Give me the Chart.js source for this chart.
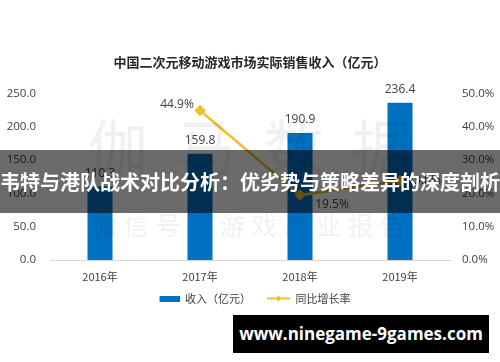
<!DOCTYPE html>
<html lang="zh-CN">
<head>
  <meta charset="UTF-8" />
  <title>中国二次元移动游戏市场实际销售收入</title>
  <script src="https://cdn.jsdelivr.net/npm/chart.js"></script>
  <style>
    body {
      margin: 0;
      background: #fff;
      font-family: 'Noto Sans CJK SC', sans-serif;
    }
    #wrap {
      position: relative;
      width: 500px;
      height: 362px;
      overflow: hidden;
    }
    .wm {
      position: absolute;
      color: rgba(0, 0, 0, 0.06);
      white-space: nowrap;
      pointer-events: none;
    }
    #wm1 { left: 88px; top: 104px; font-size: 60px; letter-spacing: 28px; line-height: 80px; }
    #wm2 { left: 92px; top: 206px; font-size: 25px; letter-spacing: 7px; line-height: 36px; }
    #banner {
      position: absolute;
      left: 0; top: 150px;
      width: 500px; height: 63px;
      background: rgba(0, 0, 0, 0.58);
      color: #fff;
      font-weight: bold;
      font-size: 20px;
      line-height: 63px;
      text-align: center;
      white-space: nowrap;
    }
    #site {
      position: absolute;
      left: 233px; top: 315px;
      width: 256px; height: 38px;
      background: #000;
      color: #fff;
      font-family: 'Open Sans', sans-serif;
      font-weight: bold;
      font-size: 17px;
      line-height: 38px;
      text-align: center;
    }
  </style>
</head>
<body>
  <div id="wrap">
    <canvas id="chart" width="500" height="362"></canvas>
    <div class="wm" id="wm1">伽马数据</div>
    <div class="wm" id="wm2">微信号：游戏产业报告</div>
    <div id="banner">韦特与港队战术对比分析：优劣势与策略差异的深度剖析</div>
    <div id="site">www.ninegame-9games.com</div>
  </div>

  <script>
    const years = ['2016年', '2017年', '2018年', '2019年'];
    const revenue = [110.3, 159.8, 190.9, 236.4];
    const growth = [null, 44.9, 19.5, 23.8];
    const leftTicks = [0, 50, 100, 150, 200, 250];
    const rightTicks = [0, 10, 20, 30, 40, 50];

    const blue = '#0070C0';
    const yellow = '#F2BE2A';
    const textColor = '#404040';

    // small canvases for the legend markers (30px wide slot)
    function barMark() {
      const c = document.createElement('canvas');
      c.width = 30; c.height = 6;
      const g = c.getContext('2d');
      g.fillStyle = blue;
      g.fillRect(10, 0, 20, 6);
      return c;
    }
    function lineMark() {
      const c = document.createElement('canvas');
      c.width = 30; c.height = 8;
      const g = c.getContext('2d');
      g.strokeStyle = yellow;
      g.lineWidth = 2;
      g.beginPath(); g.moveTo(7, 4); g.lineTo(30, 4); g.stroke();
      g.fillStyle = yellow;
      g.beginPath(); g.moveTo(18.5, 1); g.lineTo(21.5, 4); g.lineTo(18.5, 7); g.lineTo(15.5, 4); g.closePath(); g.fill();
      return c;
    }

    const valueLabels = {
      id: 'valueLabels',
      afterDatasetsDraw(chart) {
        const ctx = chart.ctx;
        ctx.save();
        ctx.font = '12px "Open Sans", sans-serif';
        ctx.fillStyle = textColor;
        ctx.textAlign = 'center';
        ctx.textBaseline = 'middle';
        chart.getDatasetMeta(0).data.forEach((el, i) => {
          ctx.fillText(revenue[i].toFixed(1), el.x, el.y - 13);
        });
        const offs = [null, [-23, -6], [32, 9], [24, 0]];
        chart.getDatasetMeta(1).data.forEach((el, i) => {
          if (growth[i] == null) return;
          ctx.fillText(growth[i].toFixed(1) + '%', el.x + offs[i][0], el.y + offs[i][1]);
        });
        ctx.restore();
      }
    };

    new Chart(document.getElementById('chart'), {
      data: {
        labels: years,
        datasets: [
          {
            type: 'bar',
            label: '收入（亿元）',
            data: revenue,
            backgroundColor: blue,
            barPercentage: 0.25,
            categoryPercentage: 1,
            yAxisID: 'y',
            order: 2
          },
          {
            type: 'line',
            label: '同比增长率',
            data: growth,
            borderColor: yellow,
            backgroundColor: yellow,
            borderWidth: 2.5,
            pointStyle: 'rectRot',
            pointRadius: 4,
            tension: 0,
            yAxisID: 'y1',
            order: 1
          }
        ]
      },
      options: {
        responsive: false,
        animation: false,
        layout: { padding: { bottom: 48 } },
        plugins: {
          title: {
            display: true,
            text: '中国二次元移动游戏市场实际销售收入（亿元）',
            color: '#262626',
            font: { family: '"Noto Sans CJK SC"', size: 13, weight: 'bold' },
            padding: { top: 54, bottom: 24 }
          },
          legend: {
            position: 'bottom',
            labels: {
              usePointStyle: true,
              pointStyleWidth: 30,
              boxHeight: 7,
              padding: 9,
              color: textColor,
              font: { family: '"Noto Sans CJK SC"', size: 11 },
              generateLabels(chart) {
                const items = Chart.defaults.plugins.legend.labels.generateLabels(chart);
                items.sort((a, b) => a.datasetIndex - b.datasetIndex);
                items.forEach(it => {
                  it.pointStyle = it.datasetIndex === 0 ? barMark() : lineMark();
                });
                return items;
              }
            }
          },
          tooltip: { enabled: false }
        },
        scales: {
          x: {
            grid: { display: false, drawTicks: false },
            border: { color: '#d9d9d9' },
            afterFit: s => { s.height = 24; },
            ticks: { color: textColor, padding: 10, font: { family: '"Noto Sans CJK SC"', size: 11 } }
          },
          y: {
            position: 'left',
            min: 0, max: 250,
            afterBuildTicks: s => { s.ticks = leftTicks.map(v => ({ value: v })); },
            afterFit: s => { s.width = 50; },
            grid: { display: false, drawTicks: false },
            border: { display: false },
            ticks: {
              color: textColor, padding: 14,
              font: { family: '"Open Sans"', size: 11.5 },
              callback: v => v.toFixed(1)
            }
          },
          y1: {
            position: 'right',
            min: 0, max: 50,
            afterBuildTicks: s => { s.ticks = rightTicks.map(v => ({ value: v })); },
            afterFit: s => { s.width = 50; },
            grid: { display: false, drawTicks: false },
            border: { display: false },
            ticks: {
              color: textColor, padding: 12,
              font: { family: '"Open Sans"', size: 11.5 },
              callback: v => v.toFixed(1) + '%'
            }
          }
        }
      },
      plugins: [valueLabels]
    });
  </script>
</body>
</html>
